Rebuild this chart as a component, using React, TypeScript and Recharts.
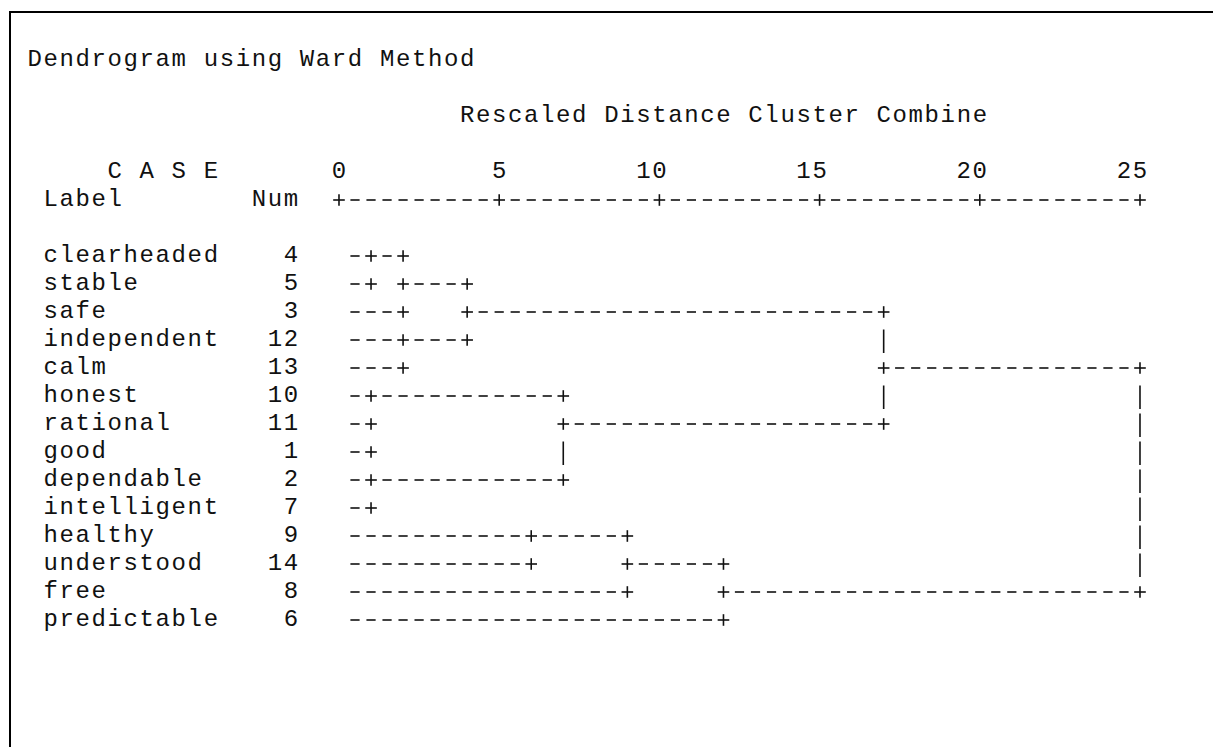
import { ScatterChart, Scatter, XAxis, YAxis } from 'recharts'

// cases in dendrogram order, with their case numbers
const CASES = [
  'clearheaded', 'stable', 'safe', 'independent', 'calm', 'honest', 'rational',
  'good', 'dependable', 'intelligent', 'healthy', 'understood', 'free', 'predictable',
]
const NUMS = [4, 5, 3, 12, 13, 10, 11, 1, 2, 7, 9, 14, 8, 6]

// agglomeration steps: [cluster A, cluster B, rescaled distance]
// new clusters get ids 14, 15, ... in order
const MERGES: [number, number, number][] = [
  [0, 1, 1], [14, 2, 2], [3, 4, 2], [15, 16, 4],
  [5, 6, 1], [7, 8, 1], [19, 9, 1], [18, 20, 7],
  [17, 21, 17], [10, 11, 6], [23, 12, 9], [24, 13, 12],
  [22, 25, 25],
]

const TICKS = [0, 5, 10, 15, 20, 25]

const W = 1213
const H = 747
const MONO = "'Courier New', 'Liberation Mono', monospace"
const FS = 24
const ADV = FS * 0.6
const CELL_W = 16.02
const LS = CELL_W - ADV
const ORIGIN_X = 26.6
const ROW_H = 28
const BASE0 = 261.5
const STEP = 0.5 // one text column in distance units
const INK = '#111'

const colLeft = (c: number) => ORIGIN_X + CELL_W * c
const rowBase = (r: number) => BASE0 + ROW_H * r

type Glyph = { x: number; y: number; ch: string }

// SPSS-style character tree: '-' runs, '+' joins, '|' connectors
function buildTree(): Glyph[] {
  const row = CASES.map((_, i) => i)
  const at = CASES.map(() => 0)
  const cells = new Map<string, Glyph>()
  const put = (x: number, y: number, ch: string) => {
    const k = `${x}:${y}`
    if (ch === '+' || !cells.has(k)) cells.set(k, { x, y, ch })
  }
  MERGES.forEach(([a, b, d], i) => {
    const last = i === MERGES.length - 1
    for (const c of [a, b]) {
      for (let x = at[c] + STEP; x < d; x += STEP) put(x, row[c], '-')
      put(d, row[c], '+')
    }
    const top = Math.min(row[a], row[b])
    const bot = Math.max(row[a], row[b])
    const mid = Math.floor((top + bot) / 2)
    for (let r = top + 1; r < bot; r++) put(d, r, r === mid && !last ? '+' : '|')
    row.push(mid)
    at.push(d)
  })
  return [...cells.values()]
}

function buildRuler(): Glyph[] {
  const out: Glyph[] = []
  for (let x = TICKS[0]; x <= TICKS[TICKS.length - 1]; x += STEP) {
    out.push({ x, y: -2, ch: TICKS.includes(x) ? '+' : '-' })
  }
  return out
}

const TREE = buildTree()
const RULER = buildRuler()

const XH = 30
const YW = 300
const X0 = colLeft(19) + CELL_W / 2
const X25 = colLeft(69) + CELL_W / 2
const MARGIN = {
  top: rowBase(-2.5) - XH,
  bottom: H - rowBase(13.5),
  left: X0 - YW,
  right: W - X25,
}

function Txt({ col, row, children }: { col: number; row: number; children: string }) {
  return (
    <text x={colLeft(col) + LS / 2} y={rowBase(row)} fontFamily={MONO} fontSize={FS}
      letterSpacing={LS} fill={INK} xmlSpace="preserve">{children}</text>
  )
}

// line-drawn box glyphs, sized like the monospace '-', '+' and '|'
const GlyphShape = (p: any) => {
  const { cx, cy } = p
  const my = cy - 5.5
  const s = { stroke: INK, strokeWidth: 1.6 }
  if (p.payload.ch === '-') return <line x1={cx - 4.6} x2={cx + 4.6} y1={my} y2={my} {...s} />
  if (p.payload.ch === '|') return <line x1={cx} x2={cx} y1={cy - 16} y2={cy + 7.5} {...s} />
  return (
    <g>
      <line x1={cx - 5.8} x2={cx + 5.8} y1={my} y2={my} {...s} />
      <line x1={cx} x2={cx} y1={my - 5.8} y2={my + 5.8} {...s} />
    </g>
  )
}

const DistTick = (p: any) => {
  const s = String(p.payload.value)
  const x = p.x - CELL_W / 2 - (s.length - 1) * CELL_W + LS / 2
  return (
    <text x={x} y={rowBase(-3)} fontFamily={MONO} fontSize={FS} letterSpacing={LS} fill={INK}>{s}</text>
  )
}

const CaseTick = (p: any) => {
  const i = p.payload.value
  const n = String(NUMS[i])
  return (
    <g>
      <text x={colLeft(1) + LS / 2} y={p.y} fontFamily={MONO} fontSize={FS} letterSpacing={LS} fill={INK}>{CASES[i]}</text>
      <text x={colLeft(17 - n.length) + LS / 2} y={p.y} fontFamily={MONO} fontSize={FS} letterSpacing={LS} fill={INK}>{n}</text>
    </g>
  )
}

export default function App() {
  return (
    <div style={{ position: 'fixed', left: 0, top: 0, width: W, height: H, background: '#fff', overflow: 'hidden' }}>
      <div style={{ position: 'absolute', left: 9, top: 11, right: -10, bottom: -10, borderTop: '2px solid #000', borderLeft: '2px solid #000' }} />
      <svg width={W} height={H} style={{ position: 'absolute', left: 0, top: 0 }}>
        <Txt col={0} row={-7}>Dendrogram using Ward Method</Txt>
        <Txt col={27} row={-5}>Rescaled Distance Cluster Combine</Txt>
        <Txt col={5} row={-3}>C A S E</Txt>
        <Txt col={1} row={-2}>Label</Txt>
        <Txt col={14} row={-2}>Num</Txt>
      </svg>
      <div style={{ position: 'absolute', left: 0, top: 0 }}>
        <ScatterChart width={W} height={H} margin={MARGIN}>
          <XAxis type="number" dataKey="x" orientation="top" height={XH} domain={[0, 25]}
            ticks={TICKS} interval={0} axisLine={false} tickLine={false} tick={DistTick} />
          <YAxis type="number" dataKey="y" width={YW} domain={[-2.5, 13.5]} reversed
            ticks={CASES.map((_, i) => i)} interval={0} axisLine={false} tickLine={false} tick={CaseTick} />
          <Scatter data={RULER} shape={GlyphShape} isAnimationActive={false} />
          <Scatter data={TREE} shape={GlyphShape} isAnimationActive={false} />
        </ScatterChart>
      </div>
    </div>
  )
}
